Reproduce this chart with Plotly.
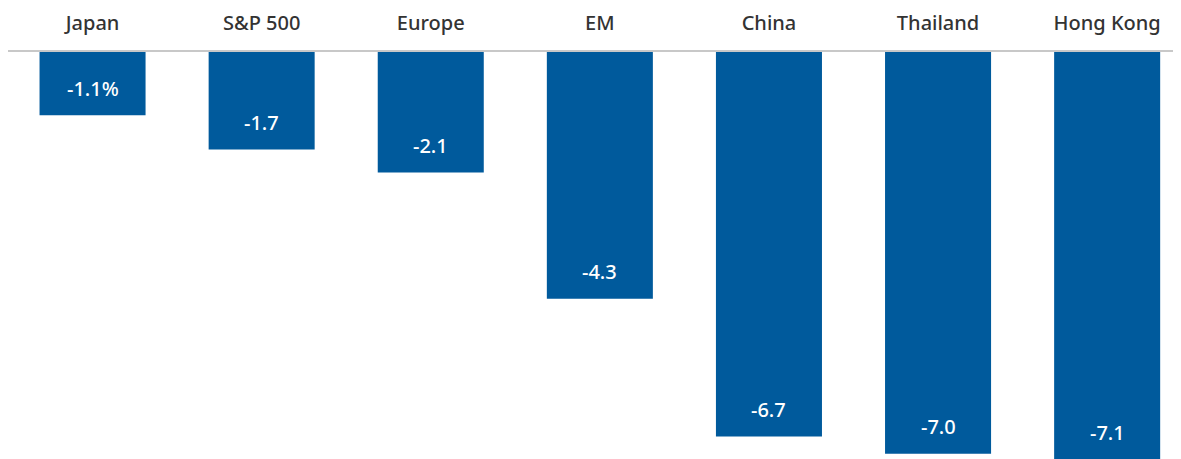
import plotly.graph_objects as go

categories = ["Japan", "S&P 500", "Europe", "EM", "China", "Thailand", "Hong Kong"]
values = [-1.1, -1.7, -2.1, -4.3, -6.7, -7.0, -7.1]
value_labels = ["-1.1%", "-1.7", "-2.1", "-4.3", "-6.7", "-7.0", "-7.1"]

BAR = "#005a9c"
FONT = "Noto Sans"

fig = go.Figure()
fig.add_trace(go.Bar(
    x=categories, y=values, width=0.627,
    marker=dict(color=BAR, line=dict(width=0)),
    hoverinfo="skip",
))

for c, v, t in zip(categories, values, value_labels):
    fig.add_annotation(x=c, y=v, text=t, showarrow=False, yshift=27,
                       font=dict(family=FONT, size=20, color="white", weight=500))

fig.update_layout(
    width=1181, height=459,
    margin=dict(l=0, r=0, t=44, b=0),
    paper_bgcolor="white", plot_bgcolor="white",
    showlegend=False,
    xaxis=dict(side="top", range=[-0.5, 6.484], showgrid=False,
               showline=True, linecolor="#c8c8c8", linewidth=1.5,
               ticks="", ticklabelstandoff=12, automargin=False,
               tickfont=dict(family=FONT, size=20, color="#333333", weight=500)),
    yaxis=dict(range=[-7.23, 0], showgrid=False, zeroline=False,
               showticklabels=False, ticks="", automargin=False),
)

fig.write_html("out.html")
